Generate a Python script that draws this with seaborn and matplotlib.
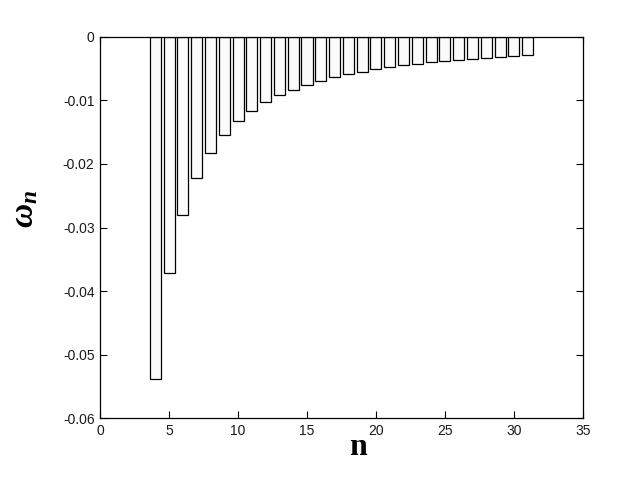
import matplotlib
matplotlib.use("Agg")
import matplotlib.pyplot as plt
import seaborn as sns
import numpy as np
import pandas as pd

n_values = [4, 5, 6, 7, 8, 9, 10, 11, 12, 13, 14, 15, 16, 17, 18,
            19, 20, 21, 22, 23, 24, 25, 26, 27, 28, 29, 30, 31]
omega_values = [-0.0539, -0.0371, -0.0280, -0.0222, -0.0183, -0.0154, -0.0132,
                -0.0117, -0.0103, -0.0092, -0.0084, -0.0076, -0.0069, -0.0063,
                -0.0059, -0.0056, -0.0051, -0.0047, -0.0044, -0.0043, -0.0040,
                -0.0038, -0.0037, -0.0035, -0.0034, -0.0031, -0.0030, -0.0028]
x_ticks = [0, 5, 10, 15, 20, 25, 30, 35]
y_ticks = [-0.06, -0.05, -0.04, -0.03, -0.02, -0.01, 0]
y_tick_labels = ["-0.06", "-0.05", "-0.04", "-0.03", "-0.02", "-0.01", "0"]

sns.set_theme(style="white")
plt.rcParams["font.family"] = ["Liberation Sans", "DejaVu Sans"]
plt.rcParams["axes.unicode_minus"] = False
plt.rcParams["mathtext.fontset"] = "custom"
plt.rcParams["mathtext.it"] = "Liberation Serif:italic:bold"
plt.rcParams["mathtext.rm"] = "Liberation Serif:bold"

df = pd.DataFrame({"n": n_values, "omega": omega_values})

fig = plt.figure(figsize=(6.26, 4.79), dpi=100)
ax = fig.add_axes([0.160, 0.127, 0.771, 0.796])

sns.barplot(data=df, x="n", y="omega", native_scale=True, width=0.8,
            color="#fbfbfb", saturation=1, edgecolor="black", linewidth=0.9,
            ax=ax)

ax.set_xlim(0, 35)
ax.set_ylim(-0.06, 0)
ax.set_xticks(x_ticks)
ax.set_xticklabels([str(t) for t in x_ticks])
ax.set_yticks(y_ticks)
ax.set_yticklabels(y_tick_labels)

for s in ax.spines.values():
    s.set_visible(True)
    s.set_color("black")
    s.set_linewidth(0.9)

ax.tick_params(axis="both", which="both", direction="in", length=5, width=0.8,
               top=True, right=True, bottom=True, left=True,
               labelsize=10, colors="black", labelcolor="#1a1a1a", pad=4)

ax.set_xlabel("n", family="Liberation Serif", fontweight="bold",
              fontsize=23, color="black")
ax.xaxis.label.set_va("baseline")
ax.xaxis.set_label_coords(0.534, -0.097)

ax.set_ylabel(r"$\omega_n$", fontsize=24, color="black")
ax.yaxis.label.set_va("center")
ax.yaxis.label.set_ha("center")
ax.yaxis.set_label_coords(-0.157, 0.549)

ax.grid(False)
ax.set_facecolor("white")
fig.patch.set_facecolor("white")

fig.savefig("out.png", dpi=100, facecolor="white")
